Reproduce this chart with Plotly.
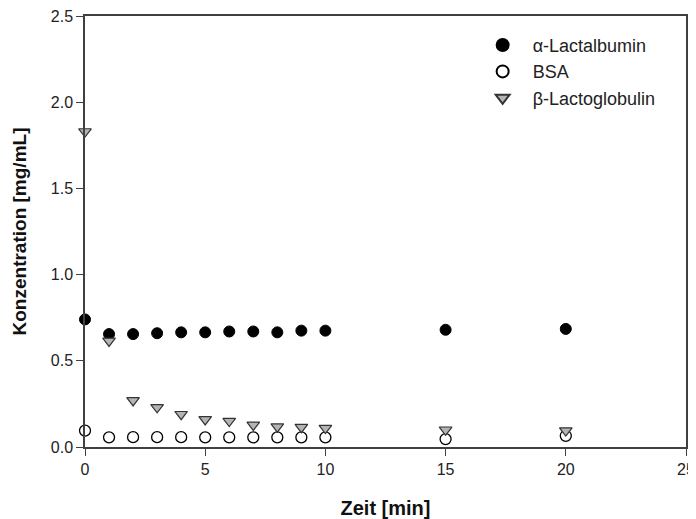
import plotly.graph_objects as go

time_min = [0, 1, 2, 3, 4, 5, 6, 7, 8, 9, 10, 15, 20]
alpha_lactalbumin = [0.74, 0.655, 0.655, 0.66, 0.665, 0.665, 0.67, 0.67, 0.665, 0.675, 0.675, 0.68, 0.685]
bsa = [0.095, 0.056, 0.057, 0.057, 0.057, 0.056, 0.056, 0.056, 0.056, 0.056, 0.056, 0.046, 0.065]
beta_lactoglobulin = [1.83, 0.615, 0.27, 0.23, 0.19, 0.16, 0.15, 0.128, 0.118, 0.115, 0.11, 0.10, 0.095]

x_ticks = [0, 5, 10, 15, 20, 25]
y_ticks = [0.0, 0.5, 1.0, 1.5, 2.0, 2.5]
y_tick_labels = ["0.0", "0.5", "1.0", "1.5", "2.0", "2.5"]

FONT = "Liberation Sans, Arial, sans-serif"

fig = go.Figure()
fig.add_trace(go.Scatter(
    x=time_min, y=alpha_lactalbumin, mode="markers", name="α-Lactalbumin",
    marker=dict(symbol="circle", size=11, color="black", line=dict(color="black", width=1)),
    cliponaxis=False))
fig.add_trace(go.Scatter(
    x=time_min, y=bsa, mode="markers", name="BSA",
    marker=dict(symbol="circle", size=11, color="white", line=dict(color="black", width=1.3)),
    cliponaxis=False))
fig.add_trace(go.Scatter(
    x=time_min, y=beta_lactoglobulin, mode="markers", name="β-Lactoglobulin",
    marker=dict(symbol="triangle-down", size=11, color="#b4b4b4", line=dict(color="#333333", width=1.2)),
    cliponaxis=False))

fig.update_layout(
    width=696, height=519,
    margin=dict(l=77, r=18, t=8, b=80, autoexpand=False),
    paper_bgcolor="white", plot_bgcolor="white",
    font=dict(family=FONT, size=16, color="#222222"),
    showlegend=True,
    legend=dict(x=0.645, y=0.975, xanchor="left", yanchor="top",
                bgcolor="rgba(0,0,0,0)", font=dict(size=18, color="#222222"),
                itemsizing="constant", itemwidth=50, tracegroupgap=0),
    xaxis=dict(range=[0, 25], tickvals=x_ticks, ticks="outside", ticklen=7,
               tickcolor="#404040", showline=True, linecolor="#404040", linewidth=1.5,
               mirror=True, showgrid=False, zeroline=False, automargin=False,
               ticklabeloverflow="allow",
               tickfont=dict(size=16, color="#222222"),
               title=dict(text="<b>Zeit [min]</b>", font=dict(size=20, color="#111111"), standoff=24)),
    yaxis=dict(range=[0, 2.5], tickvals=y_ticks, ticktext=y_tick_labels, ticks="outside", ticklen=7,
               tickcolor="#404040", showline=True, linecolor="#404040", linewidth=1.5,
               mirror=True, showgrid=False, zeroline=False, automargin=False,
               ticklabeloverflow="allow",
               tickfont=dict(size=16, color="#222222"),
               title=dict(text="<b>Konzentration [mg/mL]</b>", font=dict(size=19, color="#111111"), standoff=19)),
)

fig.write_html("out.html")
